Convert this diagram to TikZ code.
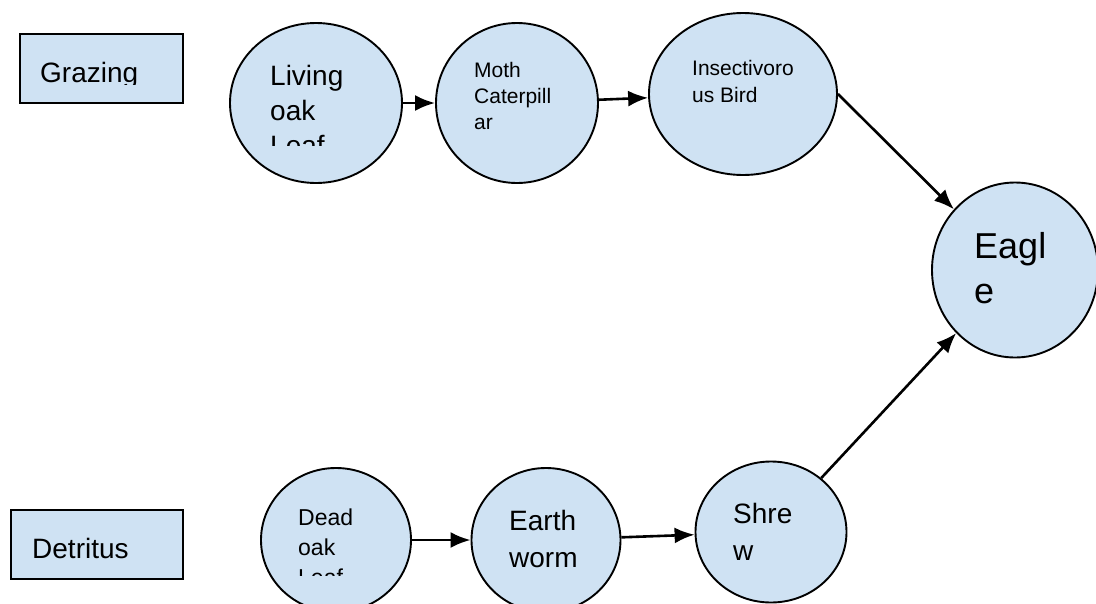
\documentclass[tikz,border=0pt]{standalone}
\usepackage{fontspec}
\setmainfont{Liberation Sans}
\usepackage{tikz}
\usetikzlibrary{shapes.geometric}
\usetikzlibrary{arrows.meta}
\tikzset{>={Latex[length=20pt,width=16pt]}}
\definecolor{webfill}{HTML}{CFE2F3}
\tikzset{
  organism/.style={ellipse, draw, line width=1.9pt, fill=webfill, inner sep=0pt},
  chainbox/.style={rectangle, draw, line width=2.4pt, fill=webfill, inner sep=0pt, anchor=north west},
  tag/.style={anchor=base west, inner sep=0pt, align=left},
  feeds/.style={->, line width=2.6pt},
}

\begin{document}
\begin{tikzpicture}[x=1pt, y=-1pt]
            \clip (0,0) rectangle (1096,603);
            \fill[white] (0,0) rectangle (1096,603);
            \node[chainbox, minimum width=163pt, minimum height=69pt] (grazing) at (19,33) {};
            \node[chainbox, minimum width=172pt, minimum height=69pt] (detritus) at (10,509) {};
            \begin{scope}
                \clip (19,33) rectangle (182,84);
                \node[tag, font=\fontsize{28}{35}\selectfont] (grazing-text) at (40,82) {Grazing};
            \end{scope}
            \node[tag, font=\fontsize{28}{35}\selectfont] (detritus-text) at (32,558) {Detritus};
            \node[organism, minimum width=172pt, minimum height=160pt] (living) at (316,103) {};
            \node[organism, minimum width=162pt, minimum height=160pt] (moth) at (517,103) {};
            \node[organism, minimum width=188pt, minimum height=162pt] (insect) at (743,94) {};
            \node[organism, minimum width=166pt, minimum height=175pt] (eagle) at (1015,270) {};
            \node[organism, minimum width=150pt, minimum height=144pt] (dead) at (336,540) {};
            \node[organism, minimum width=149pt, minimum height=144pt] (earth) at (546,540) {};
            \node[organism, minimum width=151pt, minimum height=141pt] (shrew) at (771,532) {};
            % base of a multi-line tag is its last line
            \begin{scope}
                \clip (230,23) rectangle (402,145);
                \node[tag, font=\fontsize{28}{35}\selectfont] (living-text) at (270,155) {Living\\oak\\Leaf};
            \end{scope}
            \node[tag, font=\fontsize{21}{26}\selectfont] (moth-text) at (474,129) {Moth\\Caterpill\\ar};
            \node[tag, font=\fontsize{21}{27}\selectfont] (insect-text) at (692,102) {Insectivoro\\us Bird};
            \node[tag, font=\fontsize{36}{45}\selectfont] (eagle-text) at (974,303) {Eagl\\e};
            \begin{scope}
                \clip (261,468) rectangle (411,575);
                \node[tag, font=\fontsize{23}{30}\selectfont] (dead-text) at (298,585) {Dead\\oak\\Leaf};
            \end{scope}
            \node[tag, font=\fontsize{28}{37}\selectfont] (earth-text) at (509,567) {Earth\\worm};
            \node[tag, font=\fontsize{28}{37}\selectfont] (shrew-text) at (733,560) {Shre\\w};
            \draw[feeds] (living) -- (moth);
            \draw[feeds] (moth) -- (insect);
            \draw[feeds] (insect.east) -- (eagle);
            \draw[feeds] (dead) -- (earth);
            \draw[feeds] (earth) -- (shrew);
            \draw[feeds] (shrew) -- (eagle);
        \end{tikzpicture}
\end{document}
